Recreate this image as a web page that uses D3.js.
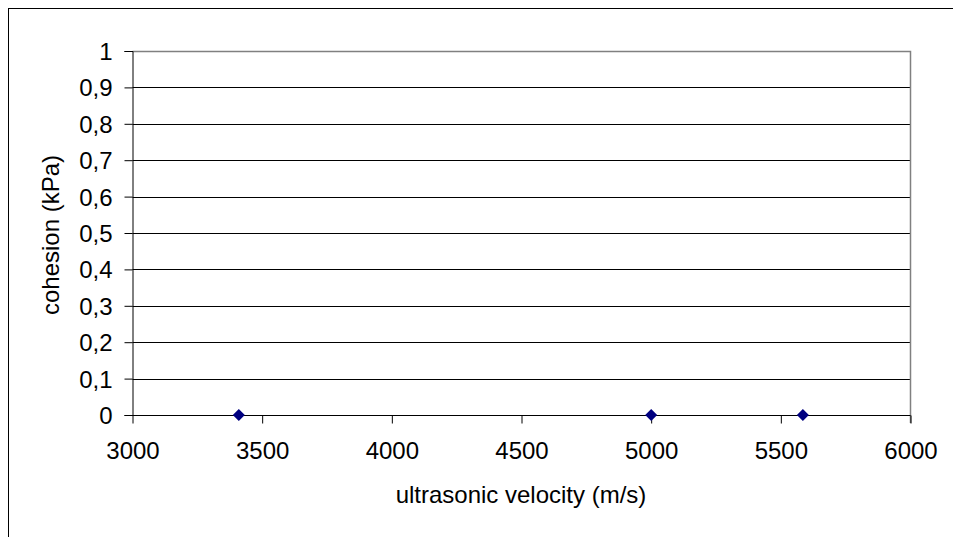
<!DOCTYPE html>
<html>
<head>
<meta charset="utf-8">
<script src="https://cdn.jsdelivr.net/npm/d3@7"></script>
<style>
  body { margin: 0; background: #fff; }
  svg { display: block; font-family: "Liberation Sans", Arial, sans-serif; }
</style>
</head>
<body>
<svg id="chart" width="953" height="537"></svg>
<script>
// values
var velocity = [3410, 5000, 5585];
var cohesion = [0, 0, 0];
var xTicks = [3000, 3500, 4000, 4500, 5000, 5500, 6000];
var yTicks = [0, 0.1, 0.2, 0.3, 0.4, 0.5, 0.6, 0.7, 0.8, 0.9, 1];

var svg = d3.select("#chart");
var plotL = 132.5, plotR = 910.5, plotT = 51, plotB = 415;

var x = d3.scaleLinear().domain([3000, 6000]).range([plotL, plotR]);
var y = d3.scaleLinear().domain([0, 1]).range([plotB, plotT]);

// outer frame, cut off on the right and at the bottom
svg.append("rect")
	.attr("x", 8.5).attr("y", 8.5)
	.attr("width", 960).attr("height", 540)
	.attr("fill", "none")
	.attr("stroke", "#000");

// gridlines
svg.append("g")
	.selectAll("line")
	.data(yTicks.slice(1, -1))
	.enter().append("line")
	.attr("x1", plotL).attr("x2", plotR)
	.attr("y1", function(d) { return Math.round(y(d)) + 0.5; })
	.attr("y2", function(d) { return Math.round(y(d)) + 0.5; })
	.attr("stroke", "#000");

// plot border top and right (grey)
svg.append("path")
	.attr("d", "M" + plotL + "," + (plotT + 0.5) + "H" + plotR + "V" + (plotB + 8))
	.attr("fill", "none")
	.attr("stroke", "#808080")
	.attr("stroke-width", 1.5);

var fmt = function(d) { return String(d).replace(".", ","); };

var yAxis = svg.append("g")
	.attr("transform", "translate(" + plotL + ",0)")
	.call(d3.axisLeft(y).tickValues(yTicks).tickSize(8).tickPadding(12).tickFormat(fmt));

var xAxis = svg.append("g")
	.attr("transform", "translate(0," + (plotB + 0.5) + ")")
	.call(d3.axisBottom(x).tickValues(xTicks).tickSize(8).tickPadding(18).tickFormat(d3.format("d")));

[yAxis, xAxis].forEach(function(a) {
	a.select(".domain").attr("stroke", "#000").attr("stroke-width", 1);
	a.selectAll(".tick line").attr("stroke", "#000");
	a.selectAll(".tick text")
		.attr("fill", "#000")
		.style("font-size", "24px")
		.style("font-family", "'Liberation Sans', Arial, sans-serif");
});
yAxis.selectAll(".tick text").attr("dy", "0.35em");
xAxis.select(".domain").attr("d", "M" + plotL + ",0H" + plotR);

// axis titles
svg.append("text")
	.attr("x", 521).attr("y", 503)
	.attr("text-anchor", "middle")
	.style("font-size", "24px")
	.text("ultrasonic velocity (m/s)");

svg.append("text")
	.attr("transform", "translate(59,235) rotate(-90)")
	.attr("text-anchor", "middle")
	.style("font-size", "24px")
	.text("cohesion (kPa)");

// markers
var pts = velocity.map(function(v, i) { return { v: v, c: cohesion[i] }; });
svg.append("g")
	.selectAll("path")
	.data(pts)
	.enter().append("path")
	.attr("transform", function(d) { return "translate(" + x(d.v) + "," + y(d.c) + ")"; })
	.attr("d", "M0,-6L6,0L0,6L-6,0Z")
	.attr("fill", "#000080");
</script>
</body>
</html>
